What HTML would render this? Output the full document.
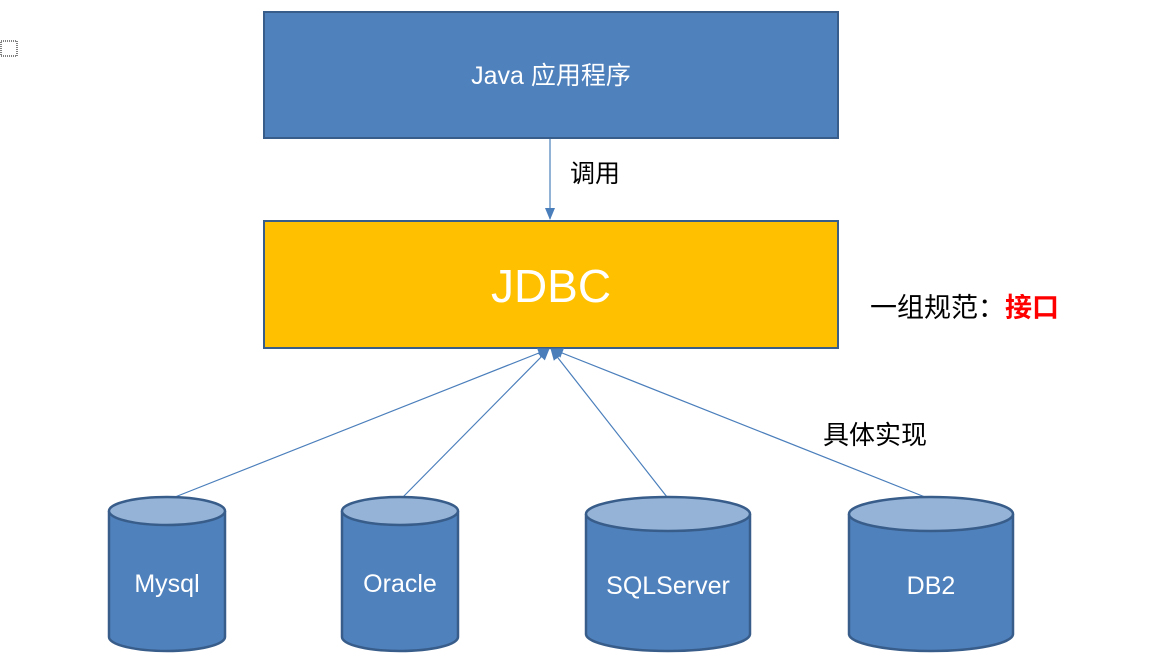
<!DOCTYPE html>
<html><head><meta charset="utf-8"><style>
body{margin:0;background:#fff;}
text{font-family:"Liberation Sans","Noto Sans CJK SC",sans-serif;}
</style></head><body>
<svg width="1168" height="660" viewBox="0 0 1168 660" xmlns="http://www.w3.org/2000/svg">
<defs><marker id="a" markerWidth="12" markerHeight="12" refX="11" refY="6" orient="auto" markerUnits="userSpaceOnUse"><path d="M0,1 L12,6 L0,11 Z" fill="#4a7ebb"/></marker></defs>
<rect x="1" y="41" width="16" height="15" fill="none" stroke="#000" stroke-dasharray="1,1"/>
<rect x="264" y="12" width="574" height="126" fill="#4f81bd" stroke="#385d8a" stroke-width="2"/>
<text x="551" y="84" font-size="25" fill="#fff" text-anchor="middle">Java 应用程序</text>
<line x1="550" y1="139" x2="550" y2="219" stroke="#4a7ebb" stroke-width="1.2" marker-end="url(#a)"/>
<text x="570" y="182" font-size="25" fill="#000">调用</text>
<rect x="264" y="221" width="574" height="127" fill="#ffc000" stroke="#385d8a" stroke-width="2"/>
<text x="551" y="302" font-size="46" fill="#fff" text-anchor="middle">JDBC</text>
<text x="870" y="317" font-size="27" fill="#000">一组规范：<tspan fill="#ff0000" font-weight="bold">接口</tspan></text>
<text x="823" y="444" font-size="26" fill="#000">具体实现</text>
<g stroke="#4a7ebb" stroke-width="1.2" marker-end="url(#a)">
<line x1="175" y1="497" x2="549" y2="349"/>
<line x1="403" y1="497" x2="549" y2="349"/>
<line x1="667" y1="497" x2="551" y2="349"/>
<line x1="925" y1="497" x2="552" y2="349"/>
</g>
<g stroke="#385d8a" stroke-width="2.5">
<path d="M109,511 V637 A58,14 0 0 0 225,637 V511" fill="#4f81bd"/>
<ellipse cx="167" cy="511" rx="58" ry="14" fill="#95b3d7"/>
<path d="M342,511 V637 A58,14 0 0 0 458,637 V511" fill="#4f81bd"/>
<ellipse cx="400" cy="511" rx="58" ry="14" fill="#95b3d7"/>
<path d="M586,514 V634 A82,17 0 0 0 750,634 V514" fill="#4f81bd"/>
<ellipse cx="668" cy="514" rx="82" ry="17" fill="#95b3d7"/>
<path d="M849,514 V634 A82,17 0 0 0 1013,634 V514" fill="#4f81bd"/>
<ellipse cx="931" cy="514" rx="82" ry="17" fill="#95b3d7"/>
</g>
<g font-size="25" fill="#fff" text-anchor="middle">
<text x="167" y="592">Mysql</text>
<text x="400" y="592">Oracle</text>
<text x="668" y="594">SQLServer</text>
<text x="931" y="594">DB2</text>
</g>
</svg>
</body></html>
